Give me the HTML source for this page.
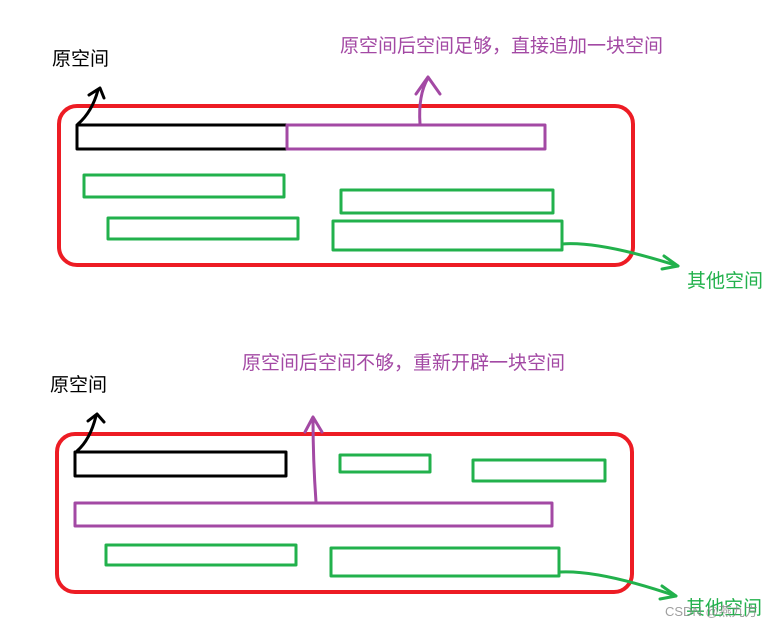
<!DOCTYPE html>
<html><head><meta charset="utf-8"><style>
html,body{margin:0;padding:0;background:#fff;width:779px;height:628px;overflow:hidden}
text{font-family:"Liberation Sans","Noto Sans CJK SC",sans-serif}
</style></head><body>
<svg width="779" height="628" viewBox="0 0 779 628" xmlns="http://www.w3.org/2000/svg">
<g fill="none" stroke-linecap="round" stroke-linejoin="round">
<!-- top -->
<rect x="59" y="106" width="574" height="159" rx="18" stroke="#ed1c24" stroke-width="4"/>
<rect x="77" y="125" width="210" height="24" stroke="#000" stroke-width="3"/>
<rect x="287" y="125" width="258" height="24" stroke="#a349a4" stroke-width="3"/>
<rect x="84" y="175" width="200" height="22" stroke="#22b14c" stroke-width="3"/>
<rect x="108" y="218" width="190" height="21" stroke="#22b14c" stroke-width="3"/>
<rect x="341" y="190" width="212" height="23" stroke="#22b14c" stroke-width="3"/>
<rect x="333" y="221" width="229" height="29" stroke="#22b14c" stroke-width="3"/>
<path d="M78 124 Q92 112 98 90" stroke="#000" stroke-width="3"/>
<path d="M89 95 L100 88 L104 98" stroke="#000" stroke-width="3"/>
<path d="M420 124 Q418 95 428 78" stroke="#a349a4" stroke-width="3"/>
<path d="M416 94 L428 77 L440 94" stroke="#a349a4" stroke-width="3"/>
<path d="M562 244 Q600 241 678 266" stroke="#22b14c" stroke-width="3"/>
<path d="M664 256 L678 266 L662 269" stroke="#22b14c" stroke-width="3"/>
<!-- bottom -->
<rect x="57" y="434" width="575" height="158" rx="18" stroke="#ed1c24" stroke-width="4"/>
<rect x="75" y="452" width="211" height="24" stroke="#000" stroke-width="3"/>
<rect x="340" y="455" width="90" height="17" stroke="#22b14c" stroke-width="3"/>
<rect x="473" y="460" width="132" height="21" stroke="#22b14c" stroke-width="3"/>
<rect x="75" y="503" width="477" height="23" stroke="#a349a4" stroke-width="3"/>
<rect x="106" y="545" width="190" height="20" stroke="#22b14c" stroke-width="3"/>
<rect x="331" y="548" width="228" height="28" stroke="#22b14c" stroke-width="3"/>
<path d="M77 451 Q90 440 96 416" stroke="#000" stroke-width="3"/>
<path d="M88 421 L97 414 L104 422" stroke="#000" stroke-width="3"/>
<path d="M316 502 Q313 460 313 418" stroke="#a349a4" stroke-width="3"/>
<path d="M305 432 L313 417 L322 432" stroke="#a349a4" stroke-width="3"/>
<path d="M560 572 Q600 570 676 596" stroke="#22b14c" stroke-width="3"/>
<path d="M662 586 L676 596 L660 599" stroke="#22b14c" stroke-width="3"/>
</g>
<text x="52" y="65" font-size="19" fill="#000">原空间</text>
<text x="340" y="52" font-size="19" fill="#a349a4">原空间后空间足够，直接追加一块空间</text>
<text x="687" y="287" font-size="19" fill="#22b14c">其他空间</text>
<text x="50" y="391" font-size="19" fill="#000">原空间</text>
<text x="242" y="369" font-size="19" fill="#a349a4">原空间后空间不够，重新开辟一块空间</text>
<text x="686" y="614" font-size="19" fill="#22b14c">其他空间</text>
<text x="665" y="616" font-size="13" fill="#888" opacity="0.8">CSDN @燕九方</text>
</svg>
</body></html>
